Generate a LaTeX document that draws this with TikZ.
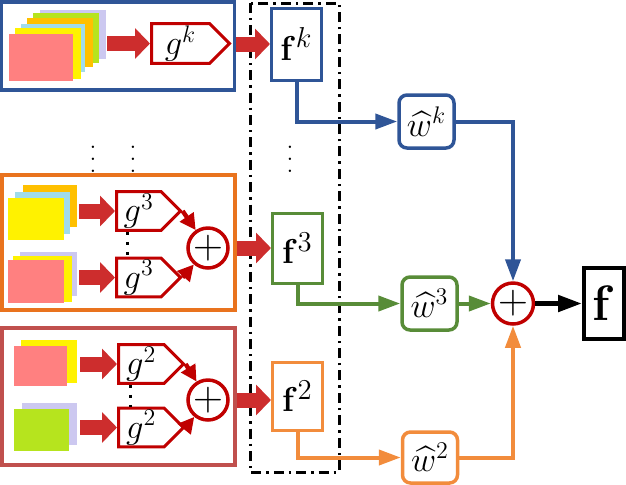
\documentclass[tikz,border=0pt]{standalone}
\usepackage{amsmath}
\usepackage{xcolor}
\usepackage{tikz}
\usetikzlibrary{arrows.meta,shapes.symbols}
\definecolor{netblue}{RGB}{47,85,151}
\definecolor{netorange}{RGB}{233,115,30}
\definecolor{netred}{RGB}{192,80,77}
\definecolor{netgreen}{RGB}{88,140,56}
\definecolor{lightorange}{RGB}{242,140,60}
\definecolor{sumred}{RGB}{192,0,0}
\definecolor{fatred}{RGB}{205,45,45}
\definecolor{cardpink}{RGB}{255,128,128}
\definecolor{cardyellow}{RGB}{255,242,0}
\definecolor{cardblue}{RGB}{160,220,235}
\definecolor{cardorange}{RGB}{255,192,0}
\definecolor{cardgreen}{RGB}{182,228,30}
\definecolor{cardlav}{RGB}{204,200,240}

\begin{document}
\begin{tikzpicture}[x=0.5pt,y=-0.5pt,
  groupbox/.style={draw=#1,line width=1.75pt,minimum width=116.5pt,inner sep=0pt},
  gbox/.style={signal,signal to=east,draw=sumred,line width=1.5pt,fill=white,minimum height=19pt,minimum width=32pt,inner sep=1pt,anchor=west,font=\fontsize{17}{19}\selectfont},
  fbox/.style={draw=#1,fill=white,line width=1.5pt,minimum width=25pt,minimum height=35pt,inner sep=0pt,font=\fontsize{19}{21}\selectfont},
  wbox/.style={draw=#1,fill=white,rounded corners=4pt,line width=1.75pt,minimum width=27.5pt,minimum height=26.5pt,inner sep=0pt,font=\fontsize{17}{19}\selectfont},
  plusnode/.style={circle,draw=sumred,fill=white,line width=1.75pt,minimum size=20pt,inner sep=0pt,font=\fontsize{20}{20}\selectfont},
  bigarrow/.style={draw=fatred,line width=7.5pt,-{Triangle[length=7.5pt,width=15pt]}},
  redlink/.style={draw=sumred,line width=2.2pt,-{Triangle[length=8pt,width=8pt]}},
  link/.style={draw=#1,line width=2pt,-{Triangle[length=11pt,width=7.5pt]}},
  dotline/.style={line width=1.5pt,dash pattern=on 1.5pt off 3.5pt},
  ellip/.style={inner sep=0pt,scale=1.5,font=\scriptsize}]
\useasboundingbox (0,0) rectangle (626,484);

\foreach \c/\xa/\ya/\xb/\yb in {cardlav/40/10/106/59,cardgreen/33/13/99/63,cardorange/27/18/93/67,
  cardblue/21/24/85/72,cardyellow/15/28/81/79,cardpink/9/34/73/81,
  cardorange/23/185/77/227,cardblue/15/192/70/234,cardyellow/8/198/64/240,
  cardlav/20/252/77/296,cardyellow/13/256/72/302,cardpink/8/260/64/303,
  cardyellow/21/340/77/383,cardpink/14/346/67/386,
  cardlav/22/403/77/445,cardgreen/14/409/69/451}
  \fill[\c] (\xa,\ya) rectangle (\xb,\yb);

\node[groupbox=netblue,minimum height=44pt] (bluebox) at (118,46) {};
\node[groupbox=netorange,minimum height=67.5pt] (orangebox) at (118.5,242.5) {};
\node[groupbox=netred,minimum height=68.5pt] (redbox) at (118.5,396.5) {};

\draw[line width=1.5pt,dash pattern=on 5pt off 2.5pt on 1.2pt off 2.5pt] (250,3) rectangle (339,472);

\node[gbox,minimum width=39pt,minimum height=18.5pt] (gk) at (150,43.5) {$g^k$};
\node[gbox] (g3a) at (115,211) {$g^3$};
\node[gbox] (g3b) at (115,277.5) {$g^3$};
\node[gbox,minimum width=32.5pt] (g2a) at (117,364) {$g^2$};
\node[gbox,minimum width=32.5pt] (g2b) at (117,427.5) {$g^2$};

\node[plusnode] (s3) at (208,248) {$+$};
\node[plusnode] (s2) at (208,400) {$+$};

\coordinate (ck) at (107,43.5);
\coordinate (c3a) at (79,211);
\coordinate (c3b) at (79,277.5);
\coordinate (c2a) at (80,364);
\coordinate (c2b) at (80,427.5);
\draw[bigarrow] (ck) -- (gk.west);
\draw[bigarrow] (c3a) -- (g3a.west);
\draw[bigarrow] (c3b) -- (g3b.west);
\draw[bigarrow] (c2a) -- (g2a.west);
\draw[bigarrow] (c2b) -- (g2b.west);

\draw[redlink] (g3a.east) -- (s3);
\draw[redlink] (g3b.east) -- (s3);
\draw[redlink] (g2a.east) -- (s2);
\draw[redlink] (g2b.east) -- (s2);
\draw[dotline] ([xshift=-5.5pt]g3a.south) -- ([xshift=-5.5pt]g3b.north);
\draw[dotline] ([xshift=-5.5pt]g2a.south) -- ([xshift=-5.5pt]g2b.north);

\node[fbox=netblue,minimum height=36pt] (fk) at (296.5,44) {$\mathbf{f}^k$};
\node[fbox=netgreen] (f3) at (297.5,248) {$\mathbf{f}^3$};
\node[fbox=lightorange,minimum height=34pt] (f2) at (297.5,396) {$\mathbf{f}^2$};

\draw[bigarrow] (bluebox.east |- fk.west) -- (fk.west);
\draw[bigarrow] (orangebox.east |- s3) -- (f3.west |- s3);
\draw[bigarrow] (redbox.east |- s2) -- (f2.west |- s2);

\node[ellip] (dl) at (93,150) {$\vdots$};
\node[ellip] (dm) at (133,150) {$\vdots$};
\node[ellip] (dr) at (290,150) {$\vdots$};

\node[wbox=netblue] (wk) at (426.5,121.5) {$\widehat{w}^k$};
\node[wbox=netgreen] (w3) at (429.5,303.5) {$\widehat{w}^3$};
\node[wbox=lightorange,minimum height=25.5pt] (w2) at (430,457.5) {$\widehat{w}^2$};
\node[plusnode,minimum size=20.5pt] (plus) at (513,303.5) {$+$};
\node[draw,line width=2pt,minimum width=20pt,minimum height=35.5pt,inner sep=0pt,font=\fontsize{24}{26}\selectfont] (fout) at (604,303.5) {$\mathbf{f}$};

\draw[link=netblue] (fk.south) |- (wk.west);
\draw[link=netblue] (wk.east) -| (plus.north);
\draw[link=netgreen] (f3.south) |- (w3.west);
\draw[link=netgreen] (w3.east) -- (plus.west);
\draw[link=lightorange] (f2.south) |- (w2.west);
\draw[link=lightorange] (w2.east) -| (plus.south);
\draw[line width=2.5pt,-{Triangle[length=12pt,width=8pt]}] (plus.east) -- (fout.west);
\end{tikzpicture}
\end{document}
